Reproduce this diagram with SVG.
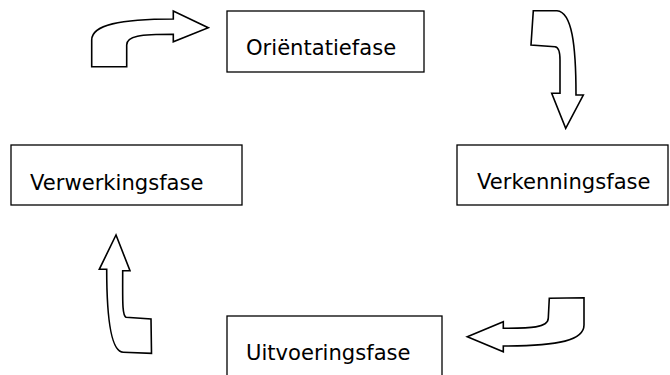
<svg xmlns="http://www.w3.org/2000/svg" width="670" height="375" viewBox="0 0 670 375">
<style>
.box{fill:#fff;stroke:#000;stroke-width:1.3}
.lbl{font-family:"DejaVu Sans","Liberation Sans",sans-serif;font-size:21.1px;fill:#000}
.arr{fill:#fff;stroke:#000;stroke-width:1.6;stroke-linejoin:miter}
</style>
<rect width="670" height="375" fill="#fff"/>
<g id="connectors">
<path class="arr" d="M 91.7 66.7 L 91.7 40 C 91.7 25, 120 19, 173.3 19 L 173.3 11 L 208.3 27.7 L 173.3 41.7 L 173.3 34.3 C 140 34.3, 126.7 36, 126.7 45 L 126.7 66.7 Z"/>
<path class="arr" d="M 533.3 10.7 L 531 45 L 555 46.7 C 559 47, 560 52, 560 60 L 560 93.3 L 551.7 93.3 L 565.7 128.3 L 583.3 95 L 576 95 C 576 45, 572 12, 557 10.7 Z"/>
<path class="arr" d="M 549.3 298.3 L 584 297.7 L 584 325 C 584 340, 560 346, 503.3 346 L 503.3 351.7 L 467.3 336.7 L 503.3 321.7 L 503.3 328.3 C 530 328.3, 548.3 328, 548.3 318 Z"/>
<path class="arr" d="M 116 235 L 99.3 269.3 L 106.7 269.3 C 106.7 300, 108 352, 123.3 352.3 L 151.5 353.3 L 151 319 L 126 317.3 C 122 315, 122.7 300, 122.7 270.7 L 130 270.7 Z"/>
</g>
<g id="orientatiefase">
<rect class="box" x="227" y="11" width="197" height="61"/>
<text class="lbl" x="246" y="55">Oriëntatiefase</text>
</g>
<g id="verkenningsfase">
<rect class="box" x="457" y="145" width="211" height="60"/>
<text class="lbl" x="477" y="189">Verkenningsfase</text>
</g>
<g id="uitvoeringsfase">
<rect class="box" x="227" y="316" width="215" height="70"/>
<text class="lbl" x="246" y="360">Uitvoeringsfase</text>
</g>
<g id="verwerkingsfase">
<rect class="box" x="11" y="145" width="231" height="60"/>
<text class="lbl" x="30" y="190">Verwerkingsfase</text>
</g>
</svg>
